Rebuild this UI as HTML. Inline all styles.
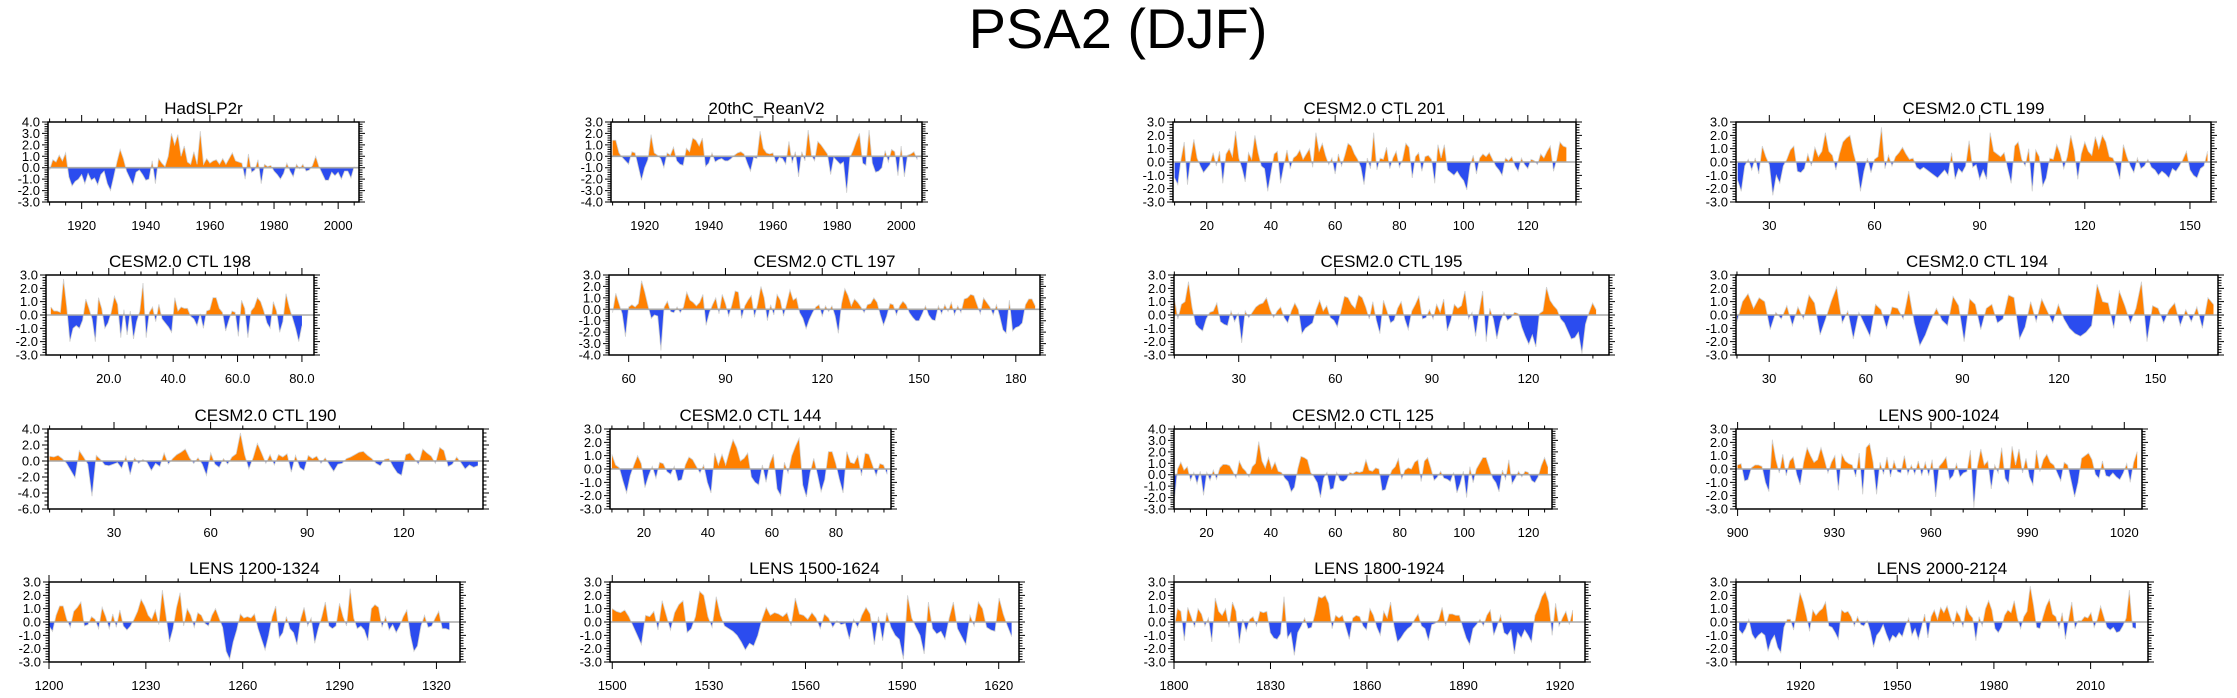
<!DOCTYPE html>
<html><head><meta charset="utf-8"><title>PSA2 (DJF)</title>
<style>
html,body{margin:0;padding:0;background:#fff;}
svg{display:block;font-family:"Liberation Sans",sans-serif;}
</style></head>
<body>
<svg id="chart" width="2237" height="698" viewBox="0 0 2237 698" xmlns="http://www.w3.org/2000/svg">
<text x="1118" y="48" text-anchor="middle" font-size="56" fill="#000">PSA2 (DJF)</text>
</svg>
<script>
const hadslpValues=[-0.2,0.7,0.5,1.1,0.6,1.3,-0.8,-1.6,-1.2,-1.0,-0.6,-1.4,-0.5,-1.1,-0.9,-1.5,-0.6,-0.3,-1.4,-2.0,-0.8,0.5,1.6,0.8,-0.3,-0.9,-1.5,-0.4,-0.2,-0.6,-1.1,-1.0,0.6,-1.4,0.8,0.4,0.1,1.0,3.0,2.0,2.9,1.0,1.9,0.5,0.3,1.4,0.3,3.2,0.3,0.8,0.4,0.6,0.7,0.3,0.8,0.3,0.8,1.3,0.6,0.5,0.4,-1.0,1.2,-0.4,-0.2,0.7,-1.4,0.3,0.1,0.2,-0.3,-0.6,-1.0,-0.5,0.4,-0.3,-0.8,0.3,-0.1,0.3,-0.3,-0.2,0.2,1.0,0.1,-0.5,-1.1,-1.1,-0.4,-0.7,-0.4,-1.0,-0.3,-0.3,-0.9,0.1];
const reanValues=[1.4,1.4,0.3,-0.1,-0.4,-0.7,0.4,0.3,-0.9,-2.1,-1.0,-0.3,1.9,0.3,0.1,-0.2,-1.0,0.3,0.1,0.8,-0.4,-0.7,-0.8,0.7,0.4,1.6,1.4,0.9,1.6,-0.9,-0.6,0.3,-0.5,-0.3,-0.2,-0.4,-0.4,-0.2,0.1,0.3,0.4,0.2,-0.6,-1.3,-0.1,-0.2,2.2,0.7,0.3,0.2,0.3,-0.6,-0.1,-0.2,-0.7,1.3,-0.6,0.4,-1.8,0.4,-0.4,2.3,0.1,-0.4,1.3,1.0,0.6,0.2,-1.6,-0.1,-0.4,-0.7,-0.5,-3.2,-0.1,0.5,1.3,2.0,-0.6,-0.8,2.3,-0.6,-1.4,-1.3,-1.0,0.5,-0.5,0.6,0.4,-1.7,0.9,-1.8,0.1,0.2,0.4,-0.3];
const ctl201Values=[-1.2,-1.7,0.2,1.5,-1.7,0.3,1.7,0.3,-0.3,-0.8,-0.5,-0.2,0.7,-0.3,0.8,-1.6,0.6,1.0,0.4,2.3,0.3,-0.5,-1.5,0.7,0.2,2.0,0.7,-0.3,-0.5,-2.2,-0.8,0.6,0.8,-1.6,-0.3,0.9,-0.5,0.3,0.5,0.9,0.2,0.6,1.0,-0.4,2.2,0.8,1.4,0.5,-0.2,0.3,-0.9,0.6,-0.3,0.5,1.4,1.2,0.6,0.2,-0.4,-1.7,0.3,-0.5,2.2,-0.6,0.3,0.2,1.1,-0.5,0.3,0.8,-0.4,0.2,1.4,1.1,-1.2,0.4,0.7,-0.7,0.4,0.5,0.2,-1.6,1.3,0.3,1.3,-0.6,-0.8,-1.0,-0.7,-1.1,-1.4,-2.1,-0.3,0.5,-0.9,0.3,0.6,0.4,0.7,0.2,-0.3,-0.6,-1.0,0.3,0.1,0.4,-0.3,-0.7,0.3,-0.2,-0.5,0.2,0.1,-0.2,0.6,0.3,0.8,1.2,-0.7,0.2,1.5,1.2,1.1];
const ctl199Values=[-1.4,-2.2,-0.3,0.2,-0.6,0.3,-0.9,1.2,0.4,-0.2,-2.5,-1.0,-1.6,-0.3,0.2,0.9,1.2,-0.7,-0.8,-0.5,0.6,-0.3,1.1,0.4,0.8,2.2,0.8,0.5,-0.6,0.6,1.5,1.8,2.0,0.7,-0.3,-2.2,-0.7,0.3,-0.8,0.2,0.4,2.6,-0.5,0.5,-0.3,0.4,0.7,1.1,0.6,0.2,0.3,-0.4,-0.6,-0.4,-0.6,-0.8,-1.0,-1.2,-0.9,-0.6,-1.0,0.7,-1.3,-0.5,-0.8,-0.3,1.6,-0.4,-0.2,-1.3,-0.6,-1.3,2.2,0.8,0.6,0.4,0.7,-0.5,-1.6,1.2,1.5,0.2,-0.3,1.0,-2.2,0.9,0.4,-1.8,-1.2,0.3,0.2,1.3,0.6,-0.5,0.4,2.0,0.8,-1.3,0.6,1.5,0.8,0.5,1.9,1.0,2.0,1.5,0.4,0.3,-0.3,-1.3,1.3,0.4,-0.3,-0.8,0.3,-0.5,-0.3,0.2,-0.4,-0.6,-1.0,-0.7,-0.9,-1.2,-0.5,-0.7,-0.3,0.2,0.8,-0.6,-1.0,-1.2,-0.5,-0.3,0.8];
const ctl198Values=[0.6,0.3,0.3,0.2,2.7,0.6,-2.0,-1.0,-0.8,-1.0,-0.4,1.2,0.5,-0.3,-2.0,1.3,0.5,-1.0,-0.6,0.2,1.4,0.8,-1.7,0.4,-1.5,0.3,-1.8,-0.5,0.3,2.4,-1.7,0.2,0.6,-0.5,0.8,-0.3,-0.6,-0.9,-1.3,1.3,0.3,0.6,0.5,0.5,-0.1,-0.3,-0.8,0.1,-1.0,0.3,0.4,1.3,1.3,0.5,0.2,-1.2,-0.4,0.3,0.2,-1.6,1.1,0.5,-1.7,0.3,0.6,1.3,1.0,0.3,-0.6,-1.0,1.0,0.3,-1.3,-0.5,1.6,0.6,-0.2,-1.0,-2.0,-0.8];
const ctl197Values=[-0.3,1.4,0.5,-0.4,-2.4,0.2,0.4,0.2,0.5,2.5,1.5,0.3,-0.8,-0.5,-0.6,-3.6,0.2,0.7,-0.2,-0.3,0.2,-0.3,0.2,1.5,0.8,0.6,0.3,0.6,1.3,-1.4,-0.3,0.4,1.0,-0.4,1.3,0.5,-0.6,0.4,1.6,1.5,-0.8,0.3,0.8,1.2,-0.7,0.5,2.0,1.0,-1.0,0.4,-0.5,1.3,0.8,-0.6,0.5,1.7,0.8,1.0,-0.3,-0.8,-1.7,-0.9,-0.3,0.2,0.4,-0.6,0.3,-0.2,0.3,-0.6,-2.1,0.5,1.8,1.2,0.3,0.9,0.6,0.2,-0.3,0.4,0.5,1.0,0.6,-0.5,-1.4,-0.6,0.5,0.4,-0.5,0.3,0.7,0.4,-0.3,-0.7,-1.0,-1.0,-0.4,0.3,-0.5,-0.9,-1.0,0.3,-0.4,0.4,-0.2,0.6,-0.5,0.3,-0.3,0.9,1.0,1.3,1.2,0.4,-0.4,1.0,0.6,0.2,-0.5,0.4,-0.6,-1.8,-2.1,0.8,-1.9,-1.6,-1.5,-1.2,0.4,0.9,0.9,0.3];
const ctl195Values=[1.3,-0.3,0.8,1.0,2.5,0.6,-0.7,-1.0,-1.2,-0.3,0.2,0.3,0.9,-0.5,-0.7,-0.8,0.3,-0.5,0.1,-2.1,0.3,-0.2,0.2,0.6,0.8,0.9,1.3,0.4,-0.2,0.3,0.6,-0.2,-0.6,0.3,0.9,0.4,-1.4,-1.0,-0.8,-0.6,0.4,1.1,0.3,0.7,-0.2,-0.4,-0.9,0.3,1.4,1.3,0.8,0.5,1.5,1.3,0.6,-0.3,1.0,-0.4,-1.4,1.1,0.3,-0.6,-0.4,0.5,1.0,-0.3,-1.1,0.3,0.8,1.4,-0.3,-0.2,0.4,-0.3,0.8,0.2,1.2,-1.2,-0.4,0.8,0.5,0.7,1.8,-0.3,0.2,-1.6,0.3,1.8,-2.0,0.5,-0.3,-1.8,-0.5,0.2,-0.4,-0.2,0.2,0.1,-0.9,-1.6,-2.2,-1.5,-2.4,0.1,0.3,2.1,1.1,0.7,0.4,-0.3,-0.6,-1.2,-1.8,-1.7,-1.3,-2.9,-0.7,0.2,0.9,0.4];
const ctl194Values=[-0.5,1.0,1.6,0.5,1.3,1.0,-1.1,0.2,-0.3,0.7,-0.8,0.6,-0.3,1.5,0.9,-1.5,-0.3,1.0,2.1,-0.6,0.3,-1.8,0.2,-0.7,-1.6,0.8,0.4,-1.0,0.6,0.5,-0.3,1.8,-0.6,-2.3,-1.5,-0.4,0.5,-0.4,-0.8,1.4,0.7,-2.0,1.2,0.8,-1.1,0.5,0.8,-0.6,-0.3,1.5,1.3,-1.8,-0.9,1.0,-0.5,1.2,0.3,-0.6,0.8,-0.3,-1.0,-1.4,-1.6,-1.3,-0.8,2.3,1.0,0.9,-1.0,1.8,0.7,-0.6,0.5,2.5,-2.0,0.7,0.5,-0.6,0.4,0.9,-0.8,0.4,-0.5,0.6,-1.0,1.3,0.8];
const ctl190Values=[0.6,0.5,0.7,0.3,-0.3,-1.2,-2.1,1.3,0.5,-0.4,-4.4,0.7,0.2,-0.5,-0.6,-0.4,-0.2,-0.9,0.6,-1.7,0.4,-0.3,0.2,-0.2,-1.2,-0.3,-0.7,1.0,-0.4,0.3,0.8,1.1,1.5,0.4,-0.3,0.4,-0.4,-1.8,1.0,-0.4,-0.8,0.3,-0.4,0.5,0.9,3.5,0.8,-1.0,0.4,2.2,1.0,-0.3,0.8,-0.5,0.8,0.5,0.9,-1.4,0.7,-0.8,-1.2,0.7,0.3,0.6,-0.3,0.4,-0.5,-1.3,-0.4,-0.3,0.3,0.5,0.8,1.1,1.2,0.7,0.3,-0.3,-0.6,0.2,0.3,-0.7,-1.5,-1.8,0.8,1.0,0.3,-0.4,1.5,1.0,0.6,-0.3,1.7,1.3,-0.7,-0.4,0.5,-0.2,-1.0,-0.5,-0.8,-0.6];
const ctl144Values=[1.1,0.3,0.1,-0.9,-1.8,-0.5,0.3,1.0,0.4,-1.4,-0.5,0.2,-0.7,0.5,0.4,-0.2,-0.4,0.2,-0.9,-0.8,0.3,0.9,0.7,0.2,-0.3,0.3,-1.0,-1.8,1.2,0.3,1.1,0.3,1.3,2.2,1.6,0.6,0.8,1.2,-0.6,-1.0,-1.2,0.3,-1.0,0.4,1.1,-1.5,-2.0,0.5,-0.3,1.0,1.7,2.3,-1.2,-2.1,-0.3,0.8,-0.4,-1.7,-0.8,1.3,1.3,0.4,-0.8,-1.8,1.3,0.5,0.4,1.0,-0.5,1.2,1.1,0.3,-0.5,0.4,0.3,-0.4];
const ctl125Values=[-2.3,0.5,1.1,0.4,0.7,-0.5,0.2,-0.8,0.3,-1.8,0.2,-0.5,0.4,-0.4,0.6,0.9,0.9,0.8,0.3,-0.3,1.2,0.6,0.3,-0.2,0.7,1.0,2.9,1.2,0.6,1.5,0.5,1.1,0.3,0.2,-0.3,-0.6,-1.5,-1.1,0.5,1.6,1.5,1.3,0.2,-0.2,-0.7,-2.0,-0.3,0.2,-1.3,-1.2,0.2,-0.5,-0.6,-0.4,0.2,0.1,0.3,0.2,0.3,1.3,0.4,0.3,0.6,0.5,-1.4,-1.3,-0.3,0.4,0.7,1.4,-0.4,0.4,0.6,0.5,1.1,1.3,-0.6,1.2,1.5,0.6,-0.5,-0.2,0.3,-0.3,-0.4,-0.6,0.2,-1.6,-0.8,0.3,-2.0,0.7,-0.7,0.5,1.0,1.5,1.5,0.6,-0.3,-0.7,-1.5,0.4,-0.4,1.3,-0.8,-0.3,0.3,-0.2,0.3,0.2,-0.5,-0.7,-0.2,0.8,1.5,0.7];
const lens900Values=[0.3,0.4,-0.9,-0.8,0.1,0.3,0.3,0.2,-1.0,-1.7,2.2,0.7,-0.3,1.1,-0.5,0.6,0.9,-0.4,-1.2,0.5,1.6,1.0,0.5,0.7,1.6,0.7,-0.3,0.5,1.0,-1.6,1.1,0.6,0.4,0.3,-0.6,1.2,-1.9,1.6,1.9,0.5,-1.9,0.5,-0.4,0.9,-0.6,0.6,-0.2,-0.3,1.0,-0.4,0.3,-0.4,0.6,-0.5,0.5,-0.5,0.7,-2.1,0.2,0.5,0.9,-0.8,-0.5,0.4,-0.6,-0.3,-0.2,1.4,-2.9,0.2,1.5,0.3,0.6,-1.5,0.3,-0.3,1.6,-0.7,-1.1,1.7,0.3,1.5,-0.3,0.8,-0.6,-1.2,1.4,-0.2,0.7,1.1,0.5,0.3,-0.3,-0.9,0.5,0.3,-0.9,-2.1,-1.0,0.8,1.0,1.2,0.7,-0.4,-0.7,0.6,-0.5,-0.6,-0.3,-0.6,-0.8,-0.3,0.4,-1.0,0.5,1.3];
const lens1200Values=[-0.3,-0.7,0.5,1.2,1.2,0.2,-0.4,0.8,1.1,1.5,-0.3,-0.2,0.4,0.2,-0.5,1.1,0.4,-0.5,0.6,-0.4,0.9,-0.3,-0.6,-0.3,0.2,0.8,1.7,1.2,0.5,0.2,0.9,-0.2,2.4,0.5,-1.5,-0.5,1.1,2.2,-0.3,1.0,0.5,-0.4,0.7,0.5,-0.1,-0.3,0.5,1.0,0.3,-0.4,-2.2,-2.8,-1.5,-0.6,0.6,0.3,0.4,0.3,0.6,-0.5,-1.3,-2.1,-1.0,0.4,1.2,-1.2,-0.8,0.4,-0.5,-0.8,-1.7,0.2,1.1,-0.3,0.3,-1.6,-0.5,0.4,1.5,-0.3,-0.5,-0.3,1.4,0.4,-0.3,2.5,0.3,-0.5,-0.3,-0.6,-1.4,1.0,1.3,1.1,-0.4,0.4,-0.6,-0.2,-0.8,-0.3,0.4,0.9,-1.0,-2.2,-1.8,-0.3,0.5,-0.4,-0.3,0.3,0.8,-0.5,-0.5,-0.6];
const lens1500Values=[1.0,0.8,0.7,0.9,0.4,-0.3,-1.0,-1.7,0.5,0.4,0.8,-0.6,1.6,0.5,-0.6,0.7,1.3,1.6,-0.8,-0.5,0.4,2.3,2.0,0.4,-0.4,1.9,0.5,-0.3,-0.5,-0.7,-1.0,-1.5,-2.1,-1.6,-1.8,-1.0,0.2,1.1,0.5,0.7,0.6,0.4,0.7,-0.3,1.8,0.6,0.5,0.2,0.7,0.3,-0.5,0.6,0.3,-0.4,0.1,-0.2,-0.1,-1.3,0.2,-0.4,0.5,1.1,0.6,-1.7,0.4,-1.4,0.7,-0.4,-1.0,-1.3,-2.8,2.0,0.3,-0.4,-1.0,-2.4,1.5,-0.5,-0.9,-0.7,-1.3,0.3,1.5,-0.5,-1.1,-1.7,0.5,-0.3,1.5,1.0,-0.4,-0.6,-0.7,1.8,0.6,-0.3,-1.1];
const lens1800Values=[-0.5,1.0,0.8,-1.4,1.1,0.4,-0.4,1.0,0.6,-0.3,0.3,-1.5,1.8,0.8,0.5,1.0,-0.4,1.5,0.8,-1.6,0.2,-0.7,0.2,0.4,-0.3,0.8,0.7,0.8,-0.8,-1.2,-1.3,-0.9,1.9,-1.2,-0.8,-2.5,-0.8,-0.3,0.3,-0.5,-0.4,0.6,1.9,1.8,2.0,1.4,-0.5,0.5,0.3,0.5,-0.4,-1.3,0.3,0.5,0.4,-0.3,-0.6,1.0,0.5,-0.4,-1.0,0.8,0.3,1.5,-0.3,-1.5,-1.2,-0.8,-0.5,-0.3,0.2,0.6,-0.3,-0.5,-1.4,-0.2,-0.1,0.2,1.1,-0.3,0.6,0.6,0.5,0.5,-0.4,-1.2,-1.7,-0.5,-0.2,0.2,-0.3,0.5,0.9,-1.0,-0.3,0.5,-0.8,-1.0,-0.6,-2.4,-0.8,-1.2,-0.6,-1.0,-1.5,0.5,1.1,1.9,2.3,1.5,-1.0,1.4,-0.3,0.3,0.8,-0.2,0.9];
const lens2000Values=[-0.6,-0.9,-0.5,0.2,-0.9,-1.3,-1.0,-0.8,-1.0,-2.2,-1.4,-1.0,-1.9,-2.3,-0.4,0.2,0.2,-0.6,0.8,2.2,1.5,0.5,-0.7,0.9,0.5,0.8,1.0,1.5,-0.3,-0.4,-0.8,-1.3,0.9,0.7,0.8,0.4,-0.3,0.4,-0.2,-0.3,0.1,-0.7,-1.9,-1.0,-0.7,-0.2,-0.9,-1.5,-1.0,-1.2,-0.8,-1.1,-0.3,0.3,-1.0,-0.5,-1.3,-0.4,0.6,-1.2,0.4,0.9,0.2,1.1,0.7,1.2,0.4,-0.3,0.8,0.4,-0.4,1.2,0.6,0.3,-1.4,0.4,-0.3,1.0,1.6,0.9,-0.5,-0.8,-0.4,0.5,0.9,0.7,1.6,0.3,-0.5,0.4,0.8,2.7,1.3,-0.4,-0.5,0.4,1.2,1.7,0.6,0.4,-0.5,0.7,-1.3,0.2,1.5,-0.5,0.1,0.1,0.4,0.3,0.7,-0.4,0.2,1.2,0.4,-0.4,-0.6,-0.4,-0.8,-0.7,-0.3,0.3,2.4,-0.4,-0.5];

const panelTitles=["HadSLP2r","20thC_ReanV2","CESM2.0 CTL 201","CESM2.0 CTL 199","CESM2.0 CTL 198","CESM2.0 CTL 197","CESM2.0 CTL 195","CESM2.0 CTL 194","CESM2.0 CTL 190","CESM2.0 CTL 144","CESM2.0 CTL 125","LENS 900-1024","LENS 1200-1324","LENS 1500-1624","LENS 1800-1924","LENS 2000-2124"];
const panelSeries=[hadslpValues,reanValues,ctl201Values,ctl199Values,ctl198Values,ctl197Values,ctl195Values,ctl194Values,ctl190Values,ctl144Values,ctl125Values,lens900Values,lens1200Values,lens1500Values,lens1800Values,lens2000Values];
const dataStart=[1910,1910,10,21,2,55,10,20,10,10,10,900,1200,1500,1800,1901];
const dataEnd=[2005,2005,132,155,80,186,141,168,143,96,126,1024,1324,1624,1924,2024];
const yMin=[-3,-4,-3,-3,-3,-4,-3,-3,-6,-3,-3,-3,-3,-3,-3,-3];
const yMax=[4,3,3,3,3,3,3,3,4,3,4,3,3,3,3,3];
const xMin=[1909.5,1909.5,9.5,20.5,0.5,53.9,9.9,19.7,9.5,9.4,9.9,899.5,1200,1499.3,1800,1900];
const xMax=[2006.5,2006.5,135,156,83.75,187.5,145,169.4,144.6,97.2,127.3,1025.5,1327.3,1626.3,1927.8,2027.8];
const xTickStep=[20,20,20,30,20,30,30,30,30,20,20,30,30,30,30,30];

// layout (pixels) — not data
const layout=[[48,359,122],[611,922,122],[1173,1576,122],[1736,2211,122],
[46,314,275],[609,1040,275],[1174,1609,275],[1736,2218,275],
[48,483,429],[610,891,429],[1174,1552,429],[1736,2142,429],
[49,460,582],[610,1019,582],[1174,1585,582],[1736,2148,582]];
const PH=80;
const NS="http://www.w3.org/2000/svg";
const svg=document.getElementById('chart');
function mk(tag,attrs,parent){const e=document.createElementNS(NS,tag);for(const k in attrs)e.setAttribute(k,attrs[k]);(parent||svg).appendChild(e);return e;}
function r3(v){return Math.round(v*1000)/1000;}

for(let p=0;p<panelSeries.length;p++){
  const [L,R,T]=layout[p];const B=T+PH;
  const x0=xMin[p],x1=xMax[p],y0=yMin[p],y1=yMax[p];
  const sx=v=>L+(v-x0)/(x1-x0)*(R-L);
  const sy=v=>T+(y1-v)/(y1-y0)*PH;
  const g=mk('g',{});
  
  
  const vals=panelSeries[p];const n=vals.length;
  const xs=vals.map((v,i)=>dataStart[p]+i*(dataEnd[p]-dataStart[p])/(n-1));
  const zy=sy(0);
  let d='M'+r3(sx(xs[0]))+','+r3(zy);
  let ld='';
  for(let i=0;i<n;i++){const px=r3(sx(xs[i])),py=r3(sy(vals[i]));d+=' L'+px+','+py;ld+=(i?' L':'M')+px+','+py;}
  d+=' L'+r3(sx(xs[n-1]))+','+r3(zy)+' Z';
  const defs=mk('defs',{},g);
  const ca=mk('clipPath',{id:'ca'+p},defs);mk('rect',{x:L,y:T,width:R-L,height:zy-T},ca);
  const cb=mk('clipPath',{id:'cb'+p},defs);mk('rect',{x:L,y:zy,width:R-L,height:B-zy},cb);
  const pos=mk('path',{d:d,fill:'#ff8000','clip-path':'url(#ca'+p+')'},g);
  
  
  const neg=mk('path',{d:d,fill:'#2b4cef','clip-path':'url(#cb'+p+')'},g);
  
  
  const ln=mk('path',{d:ld,fill:'none',stroke:'#d0d0d0','stroke-width':0.8},g);
  
  
  const zl=mk('line',{x1:L,x2:R,y1:zy,y2:zy,stroke:'#a8a8a8','stroke-width':1.6},g);
  
  
  let tk='';
  const yStep=(y1-y0)>8?2:1, yMinor=(y1-y0)>8?0.5:0.2;
  for(let v=y0;v<=y1+1e-6;v+=yMinor){
    const y=r3(sy(v));const maj=Math.abs(v/yStep-Math.round(v/yStep))<1e-6;const len=maj?6:3.5;
    tk+='M'+L+','+y+' h'+(-len)+' M'+R+','+y+' h'+len+' ';
  }
  const xs0=xTickStep[p],xmn=xs0>=30?10:5;
  for(let v=Math.ceil(x0/xmn)*xmn;v<=x1;v+=xmn){
    const x=r3(sx(v));const maj=v%xs0===0;const len=maj?7:3.5;
    tk+='M'+x+','+B+' v'+len+' M'+x+','+T+' v'+(-len)+' ';
  }
  const tp=mk('path',{d:tk,stroke:'#000','stroke-width':1,fill:'none'},g);
  
  
  const fr=mk('rect',{x:L,y:T,width:R-L,height:PH,fill:'none',stroke:'#000','stroke-width':1.5},g);
  
  
  for(let v=y0;v<=y1+1e-6;v+=yStep){
    const t=mk('text',{x:L-8,y:r3(sy(v)+4.5),'text-anchor':'end','font-size':13},g);
    t.textContent=v.toFixed(1);
    
    
  }
  for(let v=Math.ceil(x0/xs0)*xs0;v<=x1;v+=xs0){
    const t=mk('text',{x:r3(sx(v)),y:B+28,'text-anchor':'middle','font-size':13},g);
    t.textContent=(p===4)?v.toFixed(1):String(v);
    
    
  }
  const tt=mk('text',{x:(L+R)/2,y:T-8,'text-anchor':'middle','font-size':17},g);
  tt.textContent=panelTitles[p];
  
  
}
</script>
</body></html>
